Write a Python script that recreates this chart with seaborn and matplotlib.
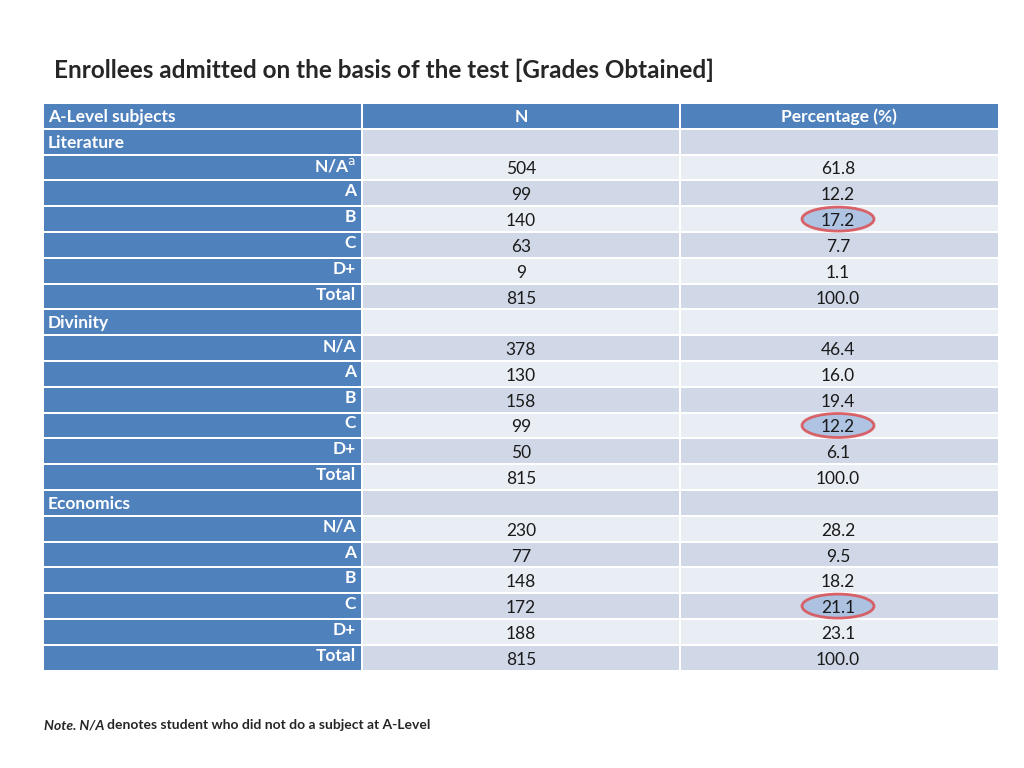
import matplotlib
matplotlib.use("Agg")
import matplotlib.pyplot as plt
from matplotlib.patches import Rectangle, Ellipse
import seaborn as sns

sns.set_theme(style="white", font="Lato")

subjects = ["Literature", "Divinity", "Economics"]
grades = ["N/A", "A", "B", "C", "D+", "Total"]
lit_n = [504, 99, 140, 63, 9, 815]
lit_pct = [61.8, 12.2, 17.2, 7.7, 1.1, 100.0]
div_n = [378, 130, 158, 99, 50, 815]
div_pct = [46.4, 16.0, 19.4, 12.2, 6.1, 100.0]
eco_n = [230, 77, 148, 172, 188, 815]
eco_pct = [28.2, 9.5, 18.2, 21.1, 23.1, 100.0]
highlight = {"Literature": "B", "Divinity": "C", "Economics": "C"}

BLUE = "#4f81bd"; DARK = "#d0d8e8"; LIGHT = "#e9edf4"

fig = plt.figure(figsize=(10.24, 7.68), dpi=100)
ax = fig.add_axes([0, 0, 1, 1])
ax.set_xlim(0, 1024); ax.set_ylim(768, 0); ax.axis("off")

cols = [(44, 361), (363, 679), (681, 998)]
top, rh = 103, 25.8

def row_y(i):
    return top + i * rh

def cell(c, i, color):
    x0, x1 = cols[c]
    ax.add_patch(Rectangle((x0, row_y(i) + 1), x1 - x0, rh - 2, color=color, lw=0))

fig.text(54 / 1024, 1 - 70 / 768, "Enrollees admitted on the basis of the test [Grades Obtained]",
         fontsize=17.5, fontweight="bold", va="center", ha="left")

for c in range(3):
    cell(c, 0, BLUE)
ax.text(48, row_y(0) + rh / 2 + 1, "A-Level subjects", color="white", fontsize=12.5, fontweight="bold", va="center")
ax.text(521, row_y(0) + rh / 2 + 1, "N", color="white", fontsize=12.5, fontweight="bold", va="center", ha="center")
ax.text(839, row_y(0) + rh / 2 + 1, "Percentage (%)", color="white", fontsize=12.5, fontweight="bold", va="center", ha="center")

data = [(lit_n, lit_pct), (div_n, div_pct), (eco_n, eco_pct)]
i = 1
for s, (ns, ps) in zip(subjects, data):
    bg = DARK if i % 2 else LIGHT
    cell(0, i, BLUE); cell(1, i, bg); cell(2, i, bg)
    ax.text(48, row_y(i) + rh / 2 + 1, s, color="white", fontsize=12.5, fontweight="bold", va="center")
    i += 1
    for g, n, p in zip(grades, ns, ps):
        bg = DARK if i % 2 else LIGHT
        cell(0, i, BLUE); cell(1, i, bg); cell(2, i, bg)
        label = g + ("$^{\\mathrm{a}}$" if (s == "Literature" and g == "N/A") else "")
        ax.text(356, row_y(i) + rh / 2 - 2, label, color="white", fontsize=12.5, fontweight="bold", va="center", ha="right")
        yc = row_y(i) + rh / 2 + 2
        if highlight[s] == g:
            ax.add_patch(Ellipse((838, yc - 2), 72, 24, facecolor="#a9c0e0", edgecolor="#d9555a", lw=2, alpha=0.9))
        ax.text(521, yc, f"{n}", fontsize=12.5, va="center", ha="center", color="#1a1a1a")
        ax.text(838, yc, f"{p:.1f}", fontsize=12.5, va="center", ha="center", color="#1a1a1a")
        i += 1

fig.text(44 / 1024, 1 - 725 / 768, "Note. N/A", fontsize=10, fontweight="bold", style="italic", va="center")
fig.text(107 / 1024, 1 - 725 / 768, "denotes student who did not do a subject at A-Level",
         fontsize=10, fontweight="bold", va="center")

fig.savefig("out.png", dpi=100)
